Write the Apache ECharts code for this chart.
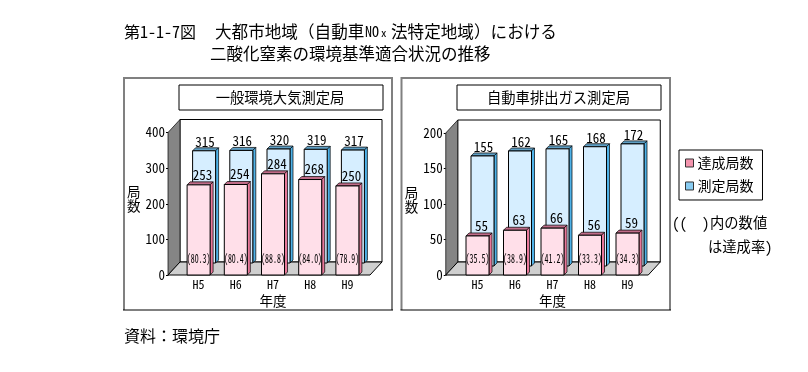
<!DOCTYPE html>
<html><head><meta charset="utf-8">
<style>html,body{margin:0;padding:0;background:#fff}#c{width:808px;height:372px}</style>
<script src="https://cdn.jsdelivr.net/npm/echarts@6/dist/echarts.min.js"></script>
</head><body><div id="c"></div>
<script>
const categories = ['H5','H6','H7','H8','H9'];
const generalAchieved = [253,254,284,268,250];
const generalMeasured = [315,316,320,319,317];
const generalRate = ['(80.3)','(80.4)','(88.8)','(84.0)','(78.9)'];
const autoAchieved = [55,63,66,56,59];
const autoMeasured = [155,162,165,168,172];
const autoRate = ['(35.5)','(38.9)','(41.2)','(33.3)','(34.3)'];
const nameAchieved = '達成局数', nameMeasured = '測定局数';

const JP = '"Noto Sans CJK JP"', NUM = '"Noto Sans Mono CJK JP","DejaVu Sans Mono"';
const depthX = 12, depthY = 13, barW = 23, sideD = 3;
const chart = echarts.init(document.getElementById('c'), null, {renderer:'canvas'});

function poly(points, fill, stroke, lw){
  return {type:'polygon', shape:{points}, style:{fill, stroke:stroke||null, lineWidth:lw||0}};
}
function txt(x,y,text,font,sx){
  return {type:'text', x, y, scaleX:sx||1, style:{x:0,y:0,text,font,fill:'#000',align:'center',verticalAlign:'middle'}};
}
function bar(x,top,base,c){
  const w = barW, d = sideD;
  return [
    poly([[x,top],[x+d,top-d],[x+w+d,top-d],[x+w,top]], c.top, '#000', 0.7),
    poly([[x+w,top],[x+w+d,top-d],[x+w+d,base-d],[x+w,base]], c.side, '#000', 0.7),
    poly([[x,top],[x+w,top],[x+w,base],[x,base]], c.front, '#000', 1)
  ];
}
const pink = {front:'#ffdfe9', side:'#e8789a', top:'#c06c88'};
const blue = {front:'#d6eeff', side:'#4fb2e8', top:'#5f9fc4'};

function wallSeries(idx, axisOffset, extra){
  return {
    type:'custom', xAxisIndex:idx, yAxisIndex:idx, silent:true, z:1,
    data:[[0,0]],
    renderItem(params){
      const g = params.coordSys;
      const L = g.x-axisOffset, R = g.x+g.width+extra, T = g.y, B = g.y+g.height;
      return {type:'group', children:[
        poly([[L+depthX,B-depthY],[L+depthX,T-depthY],[R+depthX,T-depthY],[R+depthX,B-depthY]], '#fff', '#000', 1),
        poly([[L,B],[L,T],[L+depthX,T-depthY],[L+depthX,B-depthY]], '#858585', '#000', 0.7),
        poly([[L,B],[L+depthX,B-depthY],[R+depthX,B-depthY],[R,B]], '#cfcfcf', '#000', 1)
      ]};
    }
  };
}
function measuredSeries(idx, values, dx, dy){
  return {
    type:'custom', name:nameMeasured, xAxisIndex:idx, yAxisIndex:idx, silent:true, z:2,
    itemStyle:{color:'#88ccf2'},
    data:values.map((v,i)=>[i,v]),
    renderItem(params, api){
      const p = api.coord([api.value(0), api.value(1)]);
      const b = api.coord([api.value(0), 0]);
      const x = p[0]-barW/2+dx;
      return {type:'group', children:[
        ...bar(x, p[1]-dy, b[1]-dy, blue),
        txt(x+barW/2+1, p[1]-dy-9, String(api.value(1)), '13px '+NUM)
      ]};
    }
  };
}
function achievedSeries(idx, values, rates){
  return {
    type:'custom', name:nameAchieved, xAxisIndex:idx, yAxisIndex:idx, silent:true, z:3,
    itemStyle:{color:'#f394ad'},
    data:values.map((v,i)=>[i,v]),
    renderItem(params, api){
      const i = api.value(0);
      const p = api.coord([i, api.value(1)]);
      const b = api.coord([i, 0]);
      const x = p[0]-barW/2;
      return {type:'group', children:[
        ...bar(x, p[1], b[1], pink),
        txt(x+barW/2+4, p[1]-10, String(api.value(1)), '13px '+NUM),
        txt(x+barW/2, b[1]-17, rates[i], '12px '+NUM, 0.66)
      ]};
    }
  };
}
function xAxis(idx){
  return {type:'category', gridIndex:idx, data:categories, boundaryGap:true,
    axisLine:{show:false}, axisTick:{show:false},
    axisLabel:{margin:3, fontFamily:NUM, fontSize:12, color:'#000'},
    name:'年度', nameLocation:'middle', nameGap:19,
    nameTextStyle:{fontFamily:JP, fontSize:13.5, color:'#000'}};
}
function yAxis(idx, max, interval, offset, gap){
  return {type:'value', gridIndex:idx, min:0, max, interval, offset,
    axisLine:{show:true, lineStyle:{color:'#000'}},
    axisTick:{show:true, length:2, lineStyle:{color:'#000'}},
    splitLine:{show:false},
    axisLabel:{margin:3, fontFamily:NUM, fontSize:13, color:'#000'},
    name:'{a|局}\n{a|数}', nameLocation:'middle', nameRotate:0, nameGap:gap,
    nameTextStyle:{padding:[0,0,9,0], rich:{a:{fontFamily:JP, fontSize:13.5, color:'#000', lineHeight:14}}}};
}
function gtext(x,y,text,size,align,fam){
  return {type:'text', x, y, style:{text, font:size+'px '+(fam||JP), fill:'#000', align:align||'left', verticalAlign:'middle'}};
}
function panel(l,r,t,b){
  return [
    {type:'polyline', shape:{points:[[l,b],[l,t],[r,t],[r,b]]}, style:{fill:null, stroke:'#808080', lineWidth:2}},
    {type:'line', shape:{x1:l-1,y1:b,x2:r+1,y2:b}, style:{stroke:'#000', lineWidth:1}}
  ];
}
function box(x,y,w,h,label,cx){
  return [
    {type:'rect', shape:{x,y,width:w,height:h}, style:{fill:'#fff', stroke:'#000', lineWidth:1}},
    gtext(cx,y+h/2,label,14.3,'center')
  ];
}

chart.setOption({
  animation:false,
  backgroundColor:'#fff',
  grid:[
    {left:180, top:132.5, width:186, height:142.5},
    {left:458.75, top:133, width:187.5, height:142}
  ],
  xAxis:[xAxis(0), xAxis(1)],
  yAxis:[yAxis(0,400,100,12,25), yAxis(1,200,50,13,25.5)],
  legend:{
    orient:'vertical', left:679, top:150, width:84, padding:[6,9,7,6], itemGap:9,
    itemWidth:8, itemHeight:8, itemStyle:{borderColor:'#333', borderWidth:1},
    backgroundColor:'#fff', borderColor:'#000', borderWidth:1, selectedMode:false,
    textStyle:{fontFamily:JP, fontSize:14, color:'#000', padding:[0,0,0,-1]},
    data:[{name:nameAchieved, icon:'rect'},{name:nameMeasured, icon:'rect'}]
  },
  series:[
    wallSeries(0,12,4),
    measuredSeries(0,generalMeasured,5.5,12),
    achievedSeries(0,generalAchieved,generalRate),
    wallSeries(1,13,2),
    measuredSeries(1,autoMeasured,5,9),
    achievedSeries(1,autoAchieved,autoRate)
  ],
  graphic:{elements:[
    gtext(124,32,'第1-1-7図',16,'left',NUM),
    gtext(215,32,'大都市地域（自動車',16.6),
    gtext(365,32,'NO',14,'left',NUM),
    gtext(381,33,'x',11,'left',NUM),
    gtext(391,32,'法特定地域）における',16.6),
    gtext(210,54,'二酸化窒素の環境基準適合状況の推移',16.5),
    gtext(124,336,'資料：環境庁',16),
    ...panel(124,392,78,310),
    ...panel(401.5,670,78,310),
    ...box(179,85,204,25,'一般環境大気測定局',280),
    ...box(457,85,204,25,'自動車排出ガス測定局',558.5),
    gtext(672,223,'((',15,'left',NUM),
    gtext(702,223,')',15,'left',NUM),
    gtext(710,223,'内の数値',14.3),
    gtext(708,247,'は達成率',14.3),
    gtext(765,247,')',15,'left',NUM)
  ]}
});
</script></body></html>
